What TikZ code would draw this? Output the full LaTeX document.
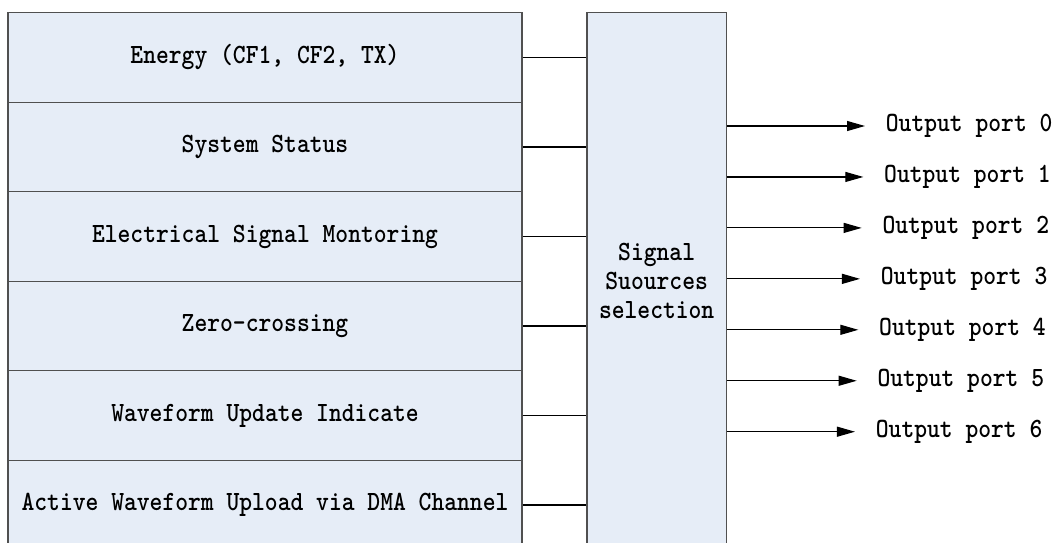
\documentclass[tikz,border=0pt]{standalone}
\usepackage{graphicx}
\usetikzlibrary{arrows.meta}
\definecolor{boxfill}{RGB}{230,237,247}
\definecolor{boxline}{RGB}{80,80,80}
\newcommand\vtxt[1]{\scalebox{1}[1.14]{#1}}
\begin{document}
\begin{tikzpicture}[x=1pt,y=-1pt,
  txt/.style={font=\fontsize{24.4}{29}\selectfont\ttfamily\fontseries{b}\selectfont},
  blk/.style={txt,draw=boxline,fill=boxfill,line width=1.3pt,inner sep=0pt,align=center},
  rowbox/.style={blk,minimum width=514pt,minimum height=89.5pt},
  link/.style={draw=black,line width=1.1pt},
  outarrow/.style={link,-{Triangle[length=18pt,width=10pt]}},
  portlabel/.style={txt,anchor=west,inner sep=0pt}]
\useasboundingbox (0,0) rectangle (1053,542);
\clip (0,0) rectangle (1053,542);
\node[rowbox] (r1) at (265,57.45) {\vtxt{Energy (CF1, CF2, TX)}};
\node[rowbox] (r2) at (265,146.95) {\vtxt{System Status}};
\node[rowbox] (r3) at (265,236.45) {\vtxt{Electrical Signal Montoring}};
\node[rowbox] (r4) at (265,325.95) {\vtxt{Zero-crossing}};
\node[rowbox] (r5) at (265,415.45) {\vtxt{Waveform Update Indicate}};
\node[rowbox] (r6) at (265,504.95) {\vtxt{Active Waveform Upload via DMA Channel}};
\node[blk,minimum width=139.3pt,minimum height=536.8pt] (sel) at (656.65,281.1) {\vtxt{Signal}\\\vtxt{Suources}\\\vtxt{selection}};
\foreach \r in {1,...,6}{
  \draw[link] (r\r.east) -- (r\r.east -| sel.west);
}
\foreach \i in {0,...,6}{
  \pgfmathsetmacro\yy{126+50.95*\i}
  \pgfmathsetmacro\tx{865-1.67*\i}
  \coordinate (t\i) at (\tx,\yy);
  \node[portlabel] (p\i) at (\tx+20.7,\yy) {\vtxt{Output port \i}};
  \draw[outarrow] (sel.east |- t\i) -- (t\i);
}
\end{tikzpicture}
\end{document}
